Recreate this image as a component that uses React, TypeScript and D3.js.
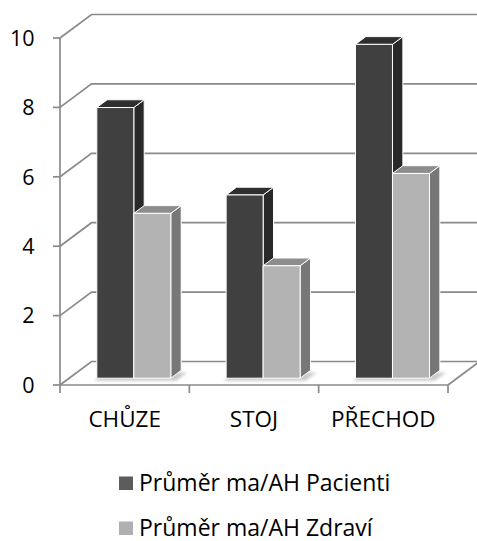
import React from 'react';
import * as d3 from 'd3';

const categories = ['CHŮZE', 'STOJ', 'PŘECHOD'];
const seriesNames = ['Průměr ma/AH Pacienti', 'Průměr ma/AH Zdraví'];
const pacienti = [7.8, 5.28, 9.62];
const zdravi = [4.75, 3.24, 5.9];
const yTicks = [0, 2, 4, 6, 8, 10];

const W = 477;
const H = 541;
const FONT = '"Open Sans", "Noto Sans", sans-serif';

// oblique projection: full depth of the plot box
const DEPTH_X = 31.5;
const DEPTH_Y = -23.5;
// bars occupy this slice of the depth
const D0 = 0.29;
const D1 = 0.62;

const faceColors = [
  { front: '#404040', top: '#2f2f2f', side: '#292929', legend: '#5c5c5c' },
  { front: '#b3b3b3', top: '#8d8d8d', side: '#777777', legend: '#b0b0b0' },
];

type Pt = [number, number];
const proj = (px: number, py: number, d: number): Pt => [px + DEPTH_X * d, py + DEPTH_Y * d];
const poly = (pts: Pt[]) => pts.map((p) => p.map((v) => v.toFixed(2)).join(',')).join(' ');

export default function App() {
  const x = d3.scaleBand<string>().domain(categories).range([60, 448]);
  const y = d3.scaleLinear().domain([0, 10]).range([385, 38]);
  const bw = x.bandwidth();
  const inner = d3.scaleBand<string>().domain(seriesNames).range([bw / 2 - 37, bw / 2 + 37]);
  const values = [pacienti, zdravi];

  const xL = 60;
  const xR = 448;
  const y0 = y(0);
  const gridColor = '#8a8a8a';

  const floor: Pt[] = [proj(xL, y0, 0), proj(xR, y0, 0), proj(xR, y0, 1), proj(xL, y0, 1)];

  return (
    <svg
      width={W}
      height={H}
      style={{ position: 'absolute', left: 0, top: 0, background: '#fff' }}
      fontFamily={FONT}
    >
      <defs>
        <filter id="soft" x="-20%" y="-200%" width="140%" height="500%">
          <feGaussianBlur stdDeviation="1.8" />
        </filter>
      </defs>

      {/* floor */}
      <polygon points={poly(floor)} fill="#fff" stroke="none" />
      <line x1={floor[0][0]} y1={floor[0][1]} x2={floor[1][0]} y2={floor[1][1]} stroke={gridColor} strokeWidth={1.7} />
      <line x1={floor[1][0]} y1={floor[1][1]} x2={floor[2][0]} y2={floor[2][1]} stroke={gridColor} strokeWidth={1.7} />

      {/* gridlines on back and side walls */}
      {yTicks.map((t) => {
        const a = proj(xL, y(t), 0);
        const b = proj(xL, y(t), 1);
        const c = proj(xR, y(t), 1);
        return <polyline key={t} points={poly([a, b, c])} fill="none" stroke={gridColor} strokeWidth={1.7} />;
      })}

      {/* value axis */}
      <line x1={xL} y1={y(10)} x2={xL} y2={y0} stroke={gridColor} strokeWidth={1.7} />
      {yTicks.map((t) => (
        <g key={`yt${t}`}>
          <line x1={xL - 7} y1={y(t)} x2={xL} y2={y(t)} stroke={gridColor} strokeWidth={1.7} />
          <text x={34.5} y={y(t)} dy="0.36em" textAnchor="end" fontSize={21.5} fill="#000">
            {t}
          </text>
        </g>
      ))}

      {/* category axis ticks */}
      {[...categories.map((c) => x(c) as number), xR].map((v, i) => (
        <line key={`xt${i}`} x1={v} y1={y0} x2={v} y2={y0 + 8} stroke={gridColor} strokeWidth={1.7} />
      ))}
      {categories.map((c) => (
        <text key={`xl${c}`} x={(x(c) as number) + bw / 2} y={427} textAnchor="middle" fontSize={22.5} fill="#000">
          {c}
        </text>
      ))}

      {/* floor shadows under the bar groups */}
      {categories.map((c) => {
        const l = (x(c) as number) + (inner(seriesNames[0]) as number);
        const r = (x(c) as number) + (inner(seriesNames[1]) as number) + inner.bandwidth();
        const pts: Pt[] = [
          proj(l, y0, D0 - 0.02),
          proj(r + 8, y0, D0 - 0.02),
          proj(r + 8, y0, D1),
          proj(l, y0, D1),
        ].map(([px, py]) => [px - 2, py + 2] as Pt);
        return <polygon key={`sh${c}`} points={poly(pts)} fill="#b8b8b8" opacity={0.75} filter="url(#soft)" />;
      })}

      {/* bars */}
      {categories.map((c, ci) => (
        <g key={`bars${c}`}>
          {seriesNames.map((s, si) => {
            const v = values[si][ci];
            const l = (x(c) as number) + (inner(s) as number);
            const r = l + inner.bandwidth();
            const top = y(v);
            const col = faceColors[si];
            const front: Pt[] = [proj(l, top, D0), proj(r, top, D0), proj(r, y0, D0), proj(l, y0, D0)];
            const lid: Pt[] = [proj(l, top, D0), proj(r, top, D0), proj(r, top, D1), proj(l, top, D1)];
            const side: Pt[] = [proj(r, top, D0), proj(r, top, D1), proj(r, y0, D1), proj(r, y0, D0)];
            return (
              <g key={s} stroke="#fff" strokeWidth={1} strokeLinejoin="round">
                <polygon points={poly(side)} fill={col.side} />
                <polygon points={poly(lid)} fill={col.top} />
                <polygon points={poly(front)} fill={col.front} />
              </g>
            );
          })}
        </g>
      ))}

      {/* legend */}
      {seriesNames.map((s, i) => (
        <g key={`lg${s}`} transform={`translate(119, ${476.5 + i * 45})`}>
          <rect x={0} y={0} width={14} height={13.5} fill={faceColors[i].legend} />
          <text x={20} y={14} fontSize={23} fill="#000">
            {s}
          </text>
        </g>
      ))}
    </svg>
  );
}
